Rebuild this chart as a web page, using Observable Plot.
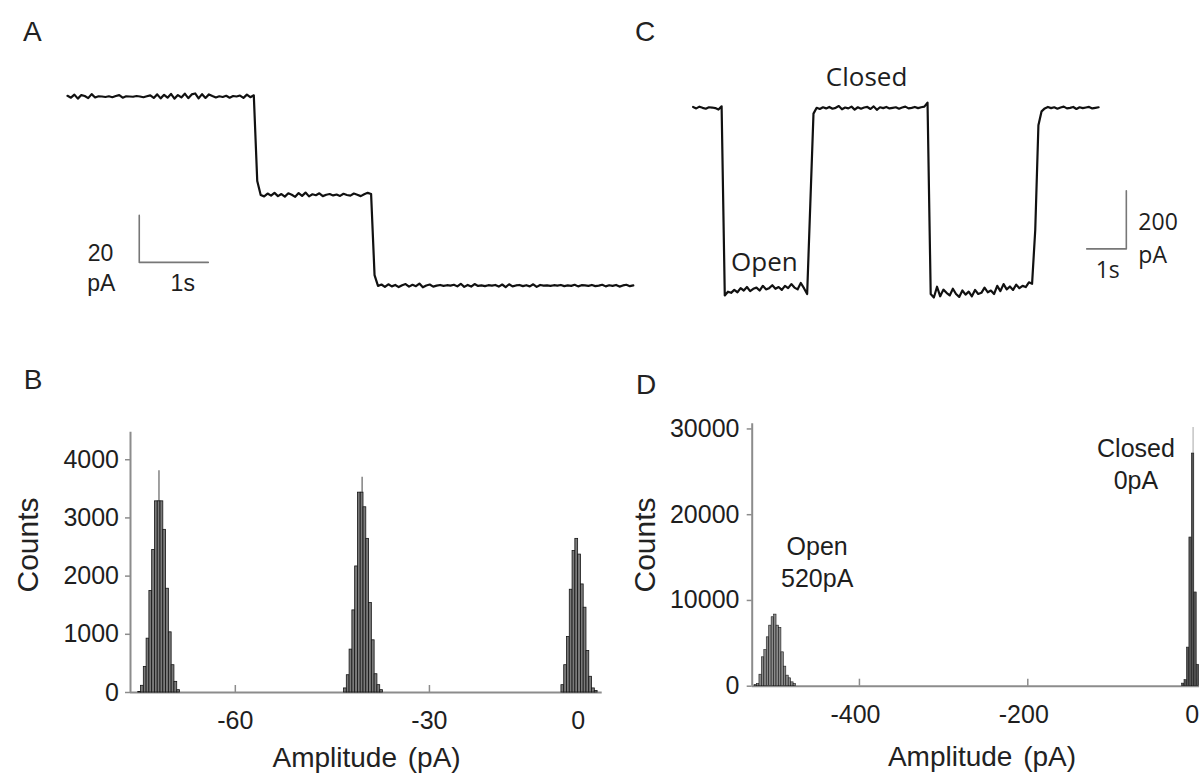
<!DOCTYPE html>
<html><head><meta charset="utf-8">
<script src="https://cdn.jsdelivr.net/npm/d3@7"></script>
<script src="https://cdn.jsdelivr.net/npm/@observablehq/plot@0.6"></script>
<style>
body{margin:0;background:#fff;}
#fig{position:relative;width:1199px;height:776px;overflow:hidden;font-family:"Liberation Sans",Arial,sans-serif;color:#222;background:#fff;}
.panel{position:absolute;}
.panel svg{overflow:visible;max-width:none;}
.lab{position:absolute;white-space:nowrap;}
</style></head><body><div id="fig"></div>
<script>
// ---------------- DATA ----------------
// Panel A: current trace (pA), sampled every 0.05 s
const traceA_dt = 0.05;
const traceA = [
 0.3,-0.5,0.8,-0.9,0.6,0.2,-0.7,1.0,-0.4,0.1,0.0,-0.2,0.1,-0.3,0.2,0.6,-0.5,0.1,0.0,-0.1,
 0.2,0.0,-0.3,0.1,0.5,-0.6,0.9,-0.8,0.7,-0.5,1.1,-0.9,0.6,-0.4,1.2,-0.7,0.9,1.3,-0.8,1.0,
 -0.6,0.9,0.2,-0.4,0.1,-0.2,0.3,-0.5,0.2,0.0,0.4,-0.6,0.8,-0.3,0.5,
 -36.0,
 -41.9,-42.5,-41.3,-42.2,-41.0,-42.4,-41.5,-42.6,-41.2,-41.8,-42.7,-41.1,-42.3,-40.9,-42.5,-41.6,
 -42.0,-41.2,-42.4,-41.8,-41.5,-42.1,-41.7,-42.3,-41.4,-41.9,-42.2,-41.3,-41.8,-42.4,-41.6,-41.0,-41.5,
 -76.0,
 -80.6,-80.0,-81.0,-79.9,-80.8,-80.2,-81.1,-80.3,-79.8,-80.9,
 -80.1,-80.7,-79.6,-81.2,-80.4,-80.0,-80.9,-80.5,-80.2,-80.6,
 -80.3,-80.5,-80.1,-80.8,-79.7,-81.0,-80.2,-80.9,-79.8,-80.6,
 -80.4,-80.7,-80.3,-80.5,-80.2,-80.9,-80.0,-81.1,-79.9,-80.8,
 -80.4,-80.2,-80.7,-80.3,-80.8,-79.9,-81.0,-80.2,-80.5,-80.4,
 -80.6,-80.3,-80.5,-80.2,-80.7,-80.4,-80.6,-80.1,-80.8,-80.3,
 -80.4,-80.6,-80.2,-80.7,-80.5,-80.1,-80.8,-80.3,-80.6,-80.2,
 -80.9,-80.4,-80.1,-80.7,-80.4
];
// Panel A scale bar (origin in data units, lengths)
const scaleA_time = 1.04, scaleA_current = -70.6, scaleA_timeLen = 1, scaleA_currentLen = 20;

// Panel C: current trace (pA), sampled every 0.08 s
const traceC_dt = 0.08;
const traceC = [
 3,-2,4,0,-3,2,1,-1,-6,5,
 -645,-632,-636,-626,-634,-620,-628,-616,-630,-622,-618,-628,-612,-624,-620,-610,-622,-616,-626,-612,-620,-606,-618,-624,-602,-620,-640,
 -330,-20,
 0,-4,2,-2,3,-3,0,6,-5,1,-2,4,-6,2,-3,1,3,-4,5,-7,2,-1,3,-2,0,2,-3,1,4,-2,0,3,-1,2,4,18,
 -640,-652,-615,-648,-625,-636,-645,-622,-640,-650,-628,-642,-632,-648,-626,-640,-636,-618,-634,-628,
 -640,-612,-630,-606,-624,-614,-626,-608,-620,-612,-616,-600,-605,
 -420,-60,
 -12,-2,3,-1,2,-3,1,4,-2,0,3,-4,2,-1,1,3,-2,0,2
];
const scaleC_time = 10.94, scaleC_current = -485, scaleC_timeLen = 1, scaleC_currentLen = 200;
const labelsC = [{t: 4.38, v: 104, s: "Closed"}, {t: 1.80, v: -533, s: "Open"}];

// Panel B: amplitude histogram
const binWidthB = 0.43;
const peakStartsB = [-75.0, -43.2, -9.6];
const peakCountsB = [
 [10, 115, 440, 925, 1745, 2450, 3285, 3285, 3285, 2795, 1783, 1034, 469, 183, 40],
 [70, 297, 737, 1411, 2166, 3434, 3434, 3183, 2640, 1537, 897, 314, 126, 40],
 [126, 469, 954, 1766, 2430, 2640, 2370, 1857, 1457, 714, 270, 70, 25]
];
const spikesB_amp = [-71.8, -40.4];
const spikesB_count = [3810, 3697];
const bXTicks = [-60, -30, -7];
const bXTickLabels = ["-60", "-30", "0"];
const bYTicks = [0, 1000, 2000, 3000, 4000];

// Panel D: amplitude histogram
const binWidthD = 2.9;
const openStartD = -524.6;
const openCountsD = [150, 250, 1340, 3370, 4200, 5700, 7060, 8040, 8350, 7060, 6790, 3950, 2280, 1230, 920, 450, 250];
const closedStartD = -16.7;
const closedCountsD = [300, 700, 4500, 17340, 27130, 10930, 2500];
const spikesD_amp = [-3.6];
const spikesD_count = [30160];
const dXTicks = [-400, -200, 0];
const dYTicks = [0, 10000, 20000, 30000];
const labelsD = [{a: -450.2, c: 14650, s: "Open\n520pA"}, {a: -71.5, c: 26050, s: "Closed\n0pA"}];

// ---------------- DRAW ----------------
const fig = document.getElementById("fig");
const SANS = '"Liberation Sans", Arial, sans-serif';
const OPEN = '"Open Sans", "Noto Sans", sans-serif';
const AXIS = "#8c8c8c";
const INK = "#1e1e1e";

function addPanel(left, top, w, h, svg) {
  const d = document.createElement("div");
  d.className = "panel";
  d.style.left = left + "px"; d.style.top = top + "px";
  d.style.width = w + "px"; d.style.height = h + "px";
  d.appendChild(svg);
  fig.appendChild(d);
}
function addLabel(text, x, baseline, fs, opts = {}) {
  const d = document.createElement("div");
  d.className = "lab";
  d.textContent = text;
  d.style.fontSize = fs + "px";
  d.style.lineHeight = fs + "px";
  if (opts.rotate) {
    d.style.left = x + "px"; d.style.top = baseline + "px";
    d.style.transform = "translate(-50%,-50%) rotate(-90deg)";
  } else {
    d.style.left = x + "px";
    d.style.top = (baseline - 0.8465 * fs) + "px";
    if (opts.center) d.style.transform = "translateX(-50%)";
  }
  if (opts.wordSpacing) d.style.wordSpacing = opts.wordSpacing;
  fig.appendChild(d);
}
const baseStyle = {background: "transparent", fontFamily: SANS, fontSize: "25px", color: INK, overflow: "visible"};

// Panel A
{
  const pts = traceA.map((v, i) => ({t: i * traceA_dt, v}));
  const bar = [
    {t: scaleA_time, v: scaleA_current + scaleA_currentLen},
    {t: scaleA_time, v: scaleA_current},
    {t: scaleA_time + scaleA_timeLen, v: scaleA_current}
  ];
  const o = [{t: scaleA_time, v: scaleA_current}];
  const svg = Plot.plot({
    width: 660, height: 330,
    marginLeft: 67, marginRight: 27.2, marginTop: 72.5, marginBottom: 22.5,
    x: {domain: [0, 8.2], axis: null},
    y: {domain: [-90, 10], axis: null},
    style: baseStyle,
    marks: [
      Plot.line(bar, {x: "t", y: "v", stroke: "#777", strokeWidth: 1.6}),
      Plot.line(pts, {x: "t", y: "v", stroke: "#111", strokeWidth: 2.2}),
      Plot.text(o, {x: "t", y: "v", text: () => "20", textAnchor: "end", dx: -26, dy: -9, fontSize: 23, fill: INK}),
      Plot.text(o, {x: "t", y: "v", text: () => "pA", textAnchor: "start", dx: -52, dy: 21, fontSize: 23, fill: INK}),
      Plot.text(o, {x: "t", y: "v", text: () => "1s", textAnchor: "middle", dx: 43.5, dy: 21, fontSize: 23, fill: INK})
    ]
  });
  addPanel(0, 0, 660, 330, svg);
}

// Panel C
{
  const pts = traceC.map((v, i) => ({t: i * traceC_dt, v}));
  const bar = [
    {t: scaleC_time - scaleC_timeLen, v: scaleC_current},
    {t: scaleC_time, v: scaleC_current},
    {t: scaleC_time, v: scaleC_current + scaleC_currentLen}
  ];
  const o = [{t: scaleC_time, v: scaleC_current}];
  const svg = Plot.plot({
    width: 539, height: 330,
    marginLeft: 32.6, marginRight: 51, marginTop: 34.6, marginBottom: 4.5,
    x: {domain: [0, 11.5], axis: null},
    y: {domain: [-750, 250], axis: null},
    style: baseStyle,
    marks: [
      Plot.line(bar, {x: "t", y: "v", stroke: "#777", strokeWidth: 1.6}),
      Plot.line(pts, {x: "t", y: "v", stroke: "#111", strokeWidth: 2.2}),
      Plot.text(labelsC, {x: "t", y: "v", text: "s", fontSize: 26, fontFamily: OPEN, fill: INK}),
      Plot.text(o, {x: "t", y: "v", text: () => "200", textAnchor: "start", dx: 12, dy: -26, fontSize: 23, fontFamily: OPEN, fill: INK}),
      Plot.text(o, {x: "t", y: "v", text: () => "pA", textAnchor: "start", dx: 12, dy: 7, fontSize: 23, fontFamily: OPEN, fill: INK}),
      Plot.text(o, {x: "t", y: "v", text: () => "1s", textAnchor: "middle", dx: -18.6, dy: 22, fontSize: 23, fontFamily: OPEN, fill: INK})
    ]
  });
  addPanel(660, 0, 539, 330, svg);
}

function bins(start, counts, w, group) {
  return counts.map((c, i) => ({x1: start + i * w, x2: start + (i + 1) * w, c, group}));
}

// Panel B
{
  const data = peakStartsB.flatMap((s, k) => bins(s, peakCountsB[k], binWidthB, k));
  const spikes = spikesB_amp.map((a, i) => ({a, c: spikesB_count[i]}));
  const xDom = [-76.2, -3.3];
  const svg = Plot.plot({
    width: 640, height: 446,
    marginLeft: 130, marginRight: 38.3, marginTop: 101.7, marginBottom: 84,
    x: {domain: xDom},
    y: {domain: [0, 4473]},
    style: baseStyle,
    marks: [
      Plot.ruleX(bXTicks, {y1: 0, y2: 0, insetBottom: 7, stroke: AXIS, strokeWidth: 1.5}),
      Plot.ruleY([0], {stroke: AXIS, strokeWidth: 2}),
      Plot.ruleX([xDom[0]], {stroke: AXIS, strokeWidth: 2}),
      Plot.ruleX(spikes, {x: "a", y1: 0, y2: "c", stroke: "#8a8a8a", strokeWidth: 1.6}),
      Plot.rect(data, {x1: "x1", x2: "x2", y1: 0, y2: "c", fill: "#7a7a7a", stroke: "#151515", strokeWidth: 0.8}),
      Plot.axisY({ticks: bYTicks, tickSize: 5, tickPadding: 6.5, tickFormat: d => String(d), label: null, stroke: AXIS, strokeWidth: 1.5, fill: INK}),
      Plot.axisX({ticks: bXTicks, tickSize: 0, tickPadding: 19, tickFormat: d => bXTickLabels[bXTicks.indexOf(d)], label: null, fill: INK})
    ]
  });
  addPanel(0, 330, 640, 446, svg);
}

// Panel D
{
  const data = [...bins(openStartD, openCountsD, binWidthD, "open"), ...bins(closedStartD, closedCountsD, binWidthD, "closed")];
  const spikes = spikesD_amp.map((a, i) => ({a, c: spikesD_count[i]}));
  const xDom = [-527.4, 4.0];
  const svg = Plot.plot({
    width: 559, height: 446,
    marginLeft: 111.7, marginRight: 0, marginTop: 93.3, marginBottom: 90.3,
    x: {domain: xDom},
    y: {domain: [0, 30600]},
    style: baseStyle,
    marks: [
      Plot.ruleX(dXTicks, {y1: 0, y2: 0, insetBottom: 7, stroke: AXIS, strokeWidth: 1.5}),
      Plot.ruleY([0], {stroke: AXIS, strokeWidth: 2}),
      Plot.ruleX([xDom[0]], {stroke: AXIS, strokeWidth: 2}),
      Plot.ruleX(spikes, {x: "a", y1: 0, y2: "c", stroke: "#c4c4c4", strokeWidth: 1.5}),
      Plot.rect(data, {x1: "x1", x2: "x2", y1: 0, y2: "c", fill: d => d.group === "open" ? "#8a8a8a" : "#555", stroke: "#1a1a1a", strokeWidth: 0.6}),
      Plot.text(labelsD, {x: "a", y: "c", text: "s", fontSize: 25, lineHeight: 1.27, fill: INK}),
      Plot.axisY({ticks: dYTicks, tickSize: 5, tickPadding: 7.7, tickFormat: d => String(d), label: null, stroke: AXIS, strokeWidth: 1.5, fill: INK}),
      Plot.axisX({ticks: dXTicks, tickSize: 0, tickPadding: 19, dx: -4, tickFormat: d => String(d), label: null, fill: INK})
    ]
  });
  addPanel(640, 330, 559, 446, svg);
}

// Panel letters and axis titles
addLabel("A", 23, 42, 28);
addLabel("C", 635, 42, 28);
addLabel("B", 23.7, 390, 28);
addLabel("D", 636, 395, 28);
addLabel("Counts", 27.7, 545, 30, {rotate: true});
addLabel("Counts", 645, 545, 30, {rotate: true});
addLabel("Amplitude (pA)", 366.6, 767.4, 28, {center: true, wordSpacing: "3px"});
addLabel("Amplitude (pA)", 982, 767, 28, {center: true, wordSpacing: "3px"});
</script></body></html>
